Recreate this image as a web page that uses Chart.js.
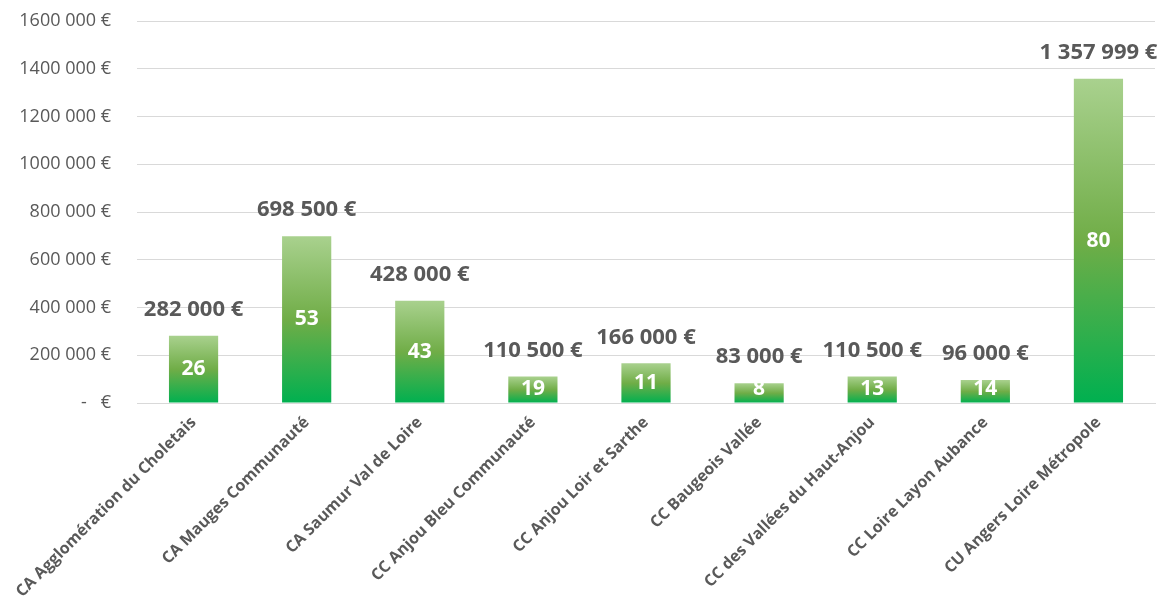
<!DOCTYPE html>
<html>
<head>
<meta charset="utf-8">
<script src="https://cdn.jsdelivr.net/npm/chart.js@4"></script>
<style>
  html, body { margin: 0; padding: 0; background: #fff; }
  #wrap { width: 1165px; height: 599px; }
</style>
</head>
<body>
<div id="wrap"><canvas id="chart"></canvas></div>
<script>
// data
const categories = [
    "CA Agglomération du Choletais",
    "CA Mauges Communauté",
    "CA Saumur Val de Loire",
    "CC Anjou Bleu Communauté",
    "CC Anjou Loir et Sarthe",
    "CC Baugeois Vallée",
    "CC des Vallées du Haut-Anjou",
    "CC Loire Layon Aubance",
    "CU Angers Loire Métropole"
];
const amounts = [282000, 698500, 428000, 110500, 166000, 83000, 110500, 96000, 1357999];
const amountLabels = ["282 000 €", "698 500 €", "428 000 €", "110 500 €", "166 000 €", "83 000 €", "110 500 €", "96 000 €", "1 357 999 €"];
const counts = [26, 53, 43, 19, 11, 8, 13, 14, 80];
const yTickLabels = ["-   €", "200 000 €", "400 000 €", "600 000 €", "800 000 €", "1000 000 €", "1200 000 €", "1400 000 €", "1600 000 €"];

const grey = "#595959";

function barGradient(context) {
    const chart = context.chart;
    const y = chart.scales.y;
    if (!y || context.raw === undefined) return "#70ad47";
    const top = y.getPixelForValue(context.raw);
    const base = y.getPixelForValue(0);
    if (!isFinite(top) || !isFinite(base) || base - top < 1) return "#70ad47";
    const g = chart.ctx.createLinearGradient(0, top, 0, base);
    g.addColorStop(0, "#a9d18e");
    g.addColorStop(0.5, "#70ad47");
    g.addColorStop(1, "#00b050");
    return g;
}

// labels: amount above each bar, count inside
const barLabels = {
    id: "barLabels",
    afterDatasetsDraw(chart) {
        const ctx = chart.ctx;
        const meta = chart.getDatasetMeta(0);
        ctx.save();
        ctx.textAlign = "center";
        ctx.textBaseline = "middle";
        meta.data.forEach((bar, i) => {
            ctx.font = "bold 22px 'Open Sans'";
            ctx.fillStyle = grey;
            ctx.fillText(amountLabels[i], bar.x, bar.y - 26);
            ctx.font = "bold 21px 'Open Sans'";
            ctx.fillStyle = "#ffffff";
            const mid = Math.min((bar.y + bar.base) / 2, bar.base - 13);
            ctx.fillText(String(counts[i]), bar.x, mid);
        });
        ctx.restore();
    }
};

const chart = new Chart(document.getElementById("chart").getContext("2d"), {
    type: "bar",
    data: {
        labels: categories,
        datasets: [{
            data: amounts,
            backgroundColor: barGradient,
            borderWidth: 0,
            categoryPercentage: 1,
            barPercentage: 0.435
        }]
    },
    options: {
        responsive: true,
        maintainAspectRatio: false,
        animation: false,
        layout: { padding: { top: 21, right: 10, left: 0, bottom: 0 } },
        plugins: {
            legend: { display: false },
            tooltip: { enabled: false }
        },
        scales: {
            x: {
                grid: { display: false },
                border: { color: "#d9d9d9", width: 1 },
                ticks: {
                    color: grey,
                    font: { family: "'Open Sans'", size: 16, weight: "bold" },
                    minRotation: 45,
                    maxRotation: 45,
                    autoSkip: false,
                    padding: 2
                },
                afterFit(scale) { scale.height = 196; }
            },
            y: {
                min: 0,
                max: 1600000,
                grid: { color: "#d9d9d9", lineWidth: 1, drawTicks: true, tickLength: 24, tickColor: "rgba(0,0,0,0)" },
                border: { display: false },
                ticks: {
                    stepSize: 200000,
                    color: grey,
                    padding: 2,
                    font: { family: "'Open Sans'", size: 18 },
                    callback: (v, i) => yTickLabels[i]
                },
                afterFit(scale) { scale.width = 137; }
            }
        }
    },
    plugins: [barLabels]
});
</script>
</body>
</html>
